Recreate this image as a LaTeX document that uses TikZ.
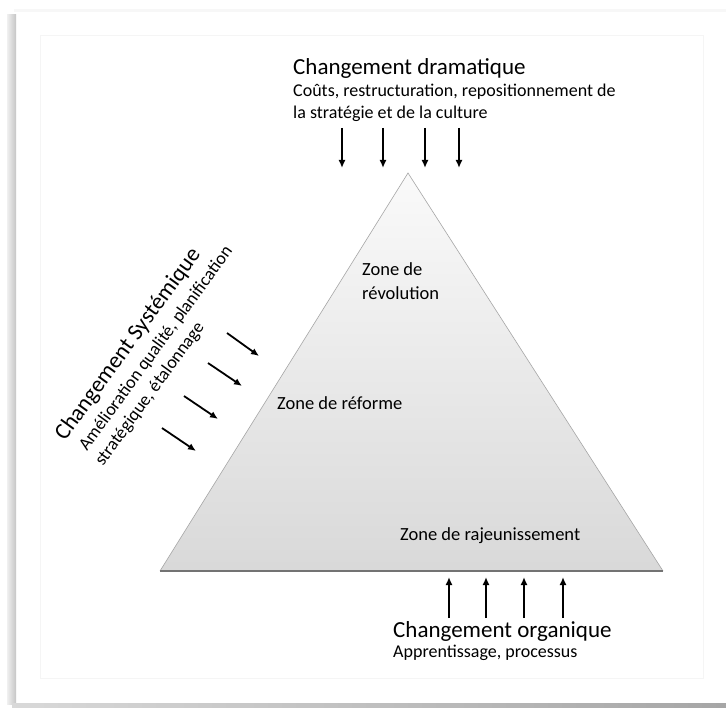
\documentclass[tikz,border=0pt]{standalone}
\usepackage{fontspec}
\setmainfont{Carlito}
\usetikzlibrary{arrows.meta}

\tikzset{
  push/.style={-{Latex[length=8pt,width=7pt]},line width=1.8pt},
  bigtitle/.style={font=\fontsize{23}{27}\selectfont,inner sep=0pt,anchor=base west},
  subtext/.style={font=\fontsize{18}{22}\selectfont,inner sep=0pt,anchor=base west},
  zonetext/.style={font=\fontsize{18.5}{22}\selectfont,inner sep=0pt,anchor=base west},
}

\begin{document}
\begin{tikzpicture}[x=1pt,y=-1pt]
    \useasboundingbox (0,0) rectangle (726,708);
    % card and its shadow
    \fill[white](0,0) rectangle (726,708);
    \fill[gray!6](14,9) rectangle (726,12);
    \shade[left color=gray!12,right color=gray!45](7,15) rectangle (16,704);
    \shade[left color=gray!30,right color=gray!70](12,703) rectangle (726,708);
    \draw[gray!8](40,35) rectangle (703,678);

    % pyramid
    \coordinate (apex) at (408,173);
    \coordinate (baseL) at (160,571);
    \coordinate (baseR) at (663,571);
    \shade[top color=gray!4,bottom color=gray!30](apex)--(baseL)--(baseR)--cycle;
    \draw[gray!70,line width=0.6pt](baseL)--(apex)--(baseR);
    \draw[black!55,line width=1.4pt](baseL)--(baseR);

    \node[zonetext] (revA) at (362,276) {Zone de};
    \node[zonetext] (revB) at (362,300) {révolution};
    \node[zonetext] (reforme) at (277,410) {Zone de réforme};
    \node[zonetext] (rajeun) at (400,540) {Zone de rajeunissement};

    % top: dramatic change
    \node[bigtitle] (dramTitle) at (293,75) {Changement dramatique};
    \node[subtext] (dramA) at (293,97) {Coûts, restructuration, repositionnement de};
    \node[subtext] (dramB) at (293,119) {la stratégie et de la culture};

    \coordinate (d1) at (342,128); \coordinate (d1e) at (342,168);
    \coordinate (d2) at (383,128); \coordinate (d2e) at (383,168);
    \coordinate (d3) at (425,128); \coordinate (d3e) at (425,168);
    \coordinate (d4) at (459,128); \coordinate (d4e) at (459,168);
    \draw[push](d1)--(d1e);
    \draw[push](d2)--(d2e);
    \draw[push](d3)--(d3e);
    \draw[push](d4)--(d4e);

    % left: systemic change
    \node[bigtitle,rotate=54] (sysTitle) at (65,442) {Changement Systémique};
    \node[subtext,rotate=54] (sysA) at (87,452) {Amélioration qualité, planification};
    \node[subtext,rotate=54] (sysB) at (103,467) {stratégique, étalonnage};

    \coordinate (s1) at (227,333); \coordinate (s1e) at (259,356);
    \coordinate (s2) at (208,363); \coordinate (s2e) at (242,386);
    \coordinate (s3) at (184,396); \coordinate (s3e) at (218,419);
    \coordinate (s4) at (162,428); \coordinate (s4e) at (196,451);
    \draw[push](s1)--(s1e);
    \draw[push](s2)--(s2e);
    \draw[push](s3)--(s3e);
    \draw[push](s4)--(s4e);

    % bottom: organic change
    \coordinate (u1) at (449,618); \coordinate (u1e) at (449,577);
    \coordinate (u2) at (486,618); \coordinate (u2e) at (486,577);
    \coordinate (u3) at (524,618); \coordinate (u3e) at (524,577);
    \coordinate (u4) at (563,618); \coordinate (u4e) at (563,577);
    \draw[push](u1)--(u1e);
    \draw[push](u2)--(u2e);
    \draw[push](u3)--(u3e);
    \draw[push](u4)--(u4e);

    \node[bigtitle] (orgTitle) at (393,637) {Changement organique};
    \node[subtext] (orgA) at (393,657) {Apprentissage, processus};
\end{tikzpicture}
\end{document}
